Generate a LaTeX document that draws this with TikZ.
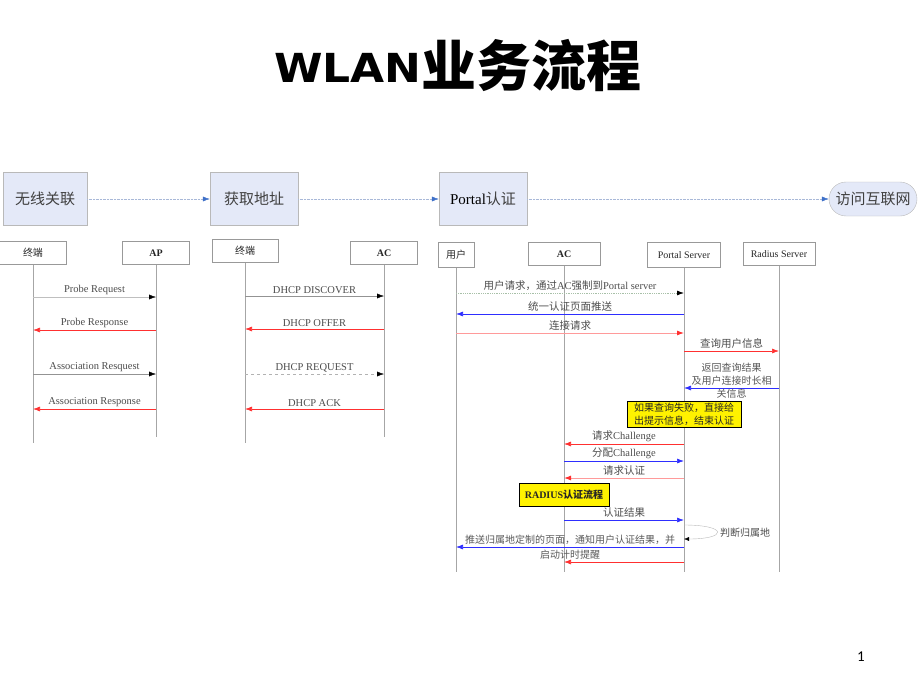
\documentclass[tikz,border=0pt]{standalone}
\usepackage{fontspec}
\setmainfont{Liberation Serif}
\newfontfamily\cjk{Noto Sans CJK SC}
\newfontfamily\titlefont{DejaVu Sans}
\newfontfamily\calibri{Carlito}
\usetikzlibrary{arrows.meta,calc}
\newcommand{\zh}[1]{{\cjk #1}}
\definecolor{msgred}{HTML}{FF3030}
\definecolor{msgpink}{HTML}{FF9A9A}
\definecolor{msgblue}{HTML}{2E2EFF}
\definecolor{phasefill}{HTML}{E4E9F8}
\definecolor{flowline}{HTML}{A8B8D8}
\definecolor{flowhead}{HTML}{3E70C8}
\definecolor{dotgreen}{HTML}{A8C0A8}

\begin{document}
\begin{tikzpicture}[x=1pt,y=-1pt,>={Latex[length=7pt,width=5pt]},
  phase/.style={draw=gray!55,fill=phasefill,minimum width=88pt,minimum height=53pt,
    inner sep=0pt,text=black!75,font=\fontsize{15}{18}\selectfont},
  actor/.style={draw=gray!80,minimum height=23pt,inner sep=0pt,text=black!85,
    font=\fontsize{10}{12}\selectfont},
  life/.style={draw=gray!70,line width=.7pt},
  lbl/.style={above=1pt,inner sep=1pt,text=black!70,font=\fontsize{10.5}{12}\selectfont},
  note/.style={draw,fill=yellow,inner sep=2pt,align=center,text=black!85},
  flow/.style={->,densely dotted,draw=flowline,>={Latex[length=7pt,width=5pt,color=flowhead]}},
  greymsg/.style={->,draw=gray!50,>={Latex[length=7pt,width=5pt,color=black]}},
  darkmsg/.style={->,draw=gray!85,>={Latex[length=7pt,width=5pt,color=black]}},
  dashmsg/.style={->,dashed,draw=gray!60,>={Latex[length=7pt,width=5pt,color=black]}},
  dotmsg/.style={->,densely dotted,draw=dotgreen,line width=.8pt,>={Latex[length=7pt,width=5pt,color=black]}},
  redmsg/.style={->,draw=msgred,line width=.7pt},
  pinkmsg/.style={->,draw=msgpink,line width=.9pt,>={Latex[length=7pt,width=5pt,color=msgred]}},
  bluemsg/.style={->,draw=msgblue,line width=.7pt}]
\useasboundingbox (0,0) rectangle (920,690);

\node (title) at (458,66) {\raisebox{4pt}{\scalebox{1.1}[1]{\titlefont\bfseries\fontsize{40}{40}\selectfont WLAN}}%
  {\cjk\bfseries\fontsize{55}{55}\selectfont 业务流程}};

% phases
\node[phase,minimum width=84pt] (assoc) at (45,199) {\zh{无线关联}};
\node[phase] (addr) at (254,199) {\zh{获取地址}};
\node[phase] (auth) at (483,199) {\textcolor{black}{Portal}\zh{认证}};
\node[phase,rounded corners=17pt,minimum height=34pt] (net) at (873,199) {\zh{访问互联网}};
\draw[flow] (assoc) -- (addr);
\draw[flow] (addr) -- (auth);
\draw[flow] (auth) -- (net);

% actors
\node[actor,minimum width=67pt] (t1) at (33,253) {\zh{终端}};
\node[actor,minimum width=67pt] (ap) at (156,253) {\textbf{AP}};
\node[actor,minimum width=66pt] (t2) at (245,251) {\zh{终端}};
\node[actor,minimum width=67pt] (ac1) at (384,253) {\textbf{AC}};
\node[actor,minimum width=36pt,minimum height=25pt] (usr) at (456,255) {\zh{用户}};
\node[actor,minimum width=72pt] (ac2) at (564,254) {\textbf{AC}};
\node[actor,minimum width=73pt,minimum height=25pt] (ps) at (684,255) {Portal Server};
\node[actor,minimum width=72pt] (rs) at (779,254) {Radius Server};

\foreach \n/\y in {m1/297,m2/330,m3/374,m4/409,d1/296,d2/329,d3/374,d4/409,
  q1/293,q2/314,q3/333,q4/351,q5/388,q7/444,q8/461,q9/478,q11/520,q12/525,
  q13/539,q14/547,q15/562,end1/443,end2/437,end3/572}
  \coordinate (\n) at (0,\y);

\draw[life] (t1) -- (t1 |- end1) (ap) -- (ap |- end2)
            (t2) -- (t2 |- end1) (ac1) -- (ac1 |- end2)
            (usr) -- (usr |- end3) (ac2) -- (ac2 |- end3)
            (ps) -- (ps |- end3) (rs) -- (rs |- end3);

% association
\draw (t1 |- m1) edge[greymsg] node[lbl] {Probe Request} (ap |- m1)
      (ap |- m2) edge[redmsg] node[lbl] {Probe Response} (t1 |- m2)
      (t1 |- m3) edge[darkmsg] node[lbl] {Association Resquest} (ap |- m3)
      (ap |- m4) edge[redmsg] node[lbl] {Association Response} (t1 |- m4);

% dhcp
\draw (t2 |- d1) edge[darkmsg] node[lbl] {DHCP DISCOVER} (ac1 |- d1)
      (ac1 |- d2) edge[redmsg] node[lbl] {DHCP OFFER} (t2 |- d2)
      (t2 |- d3) edge[dashmsg] node[lbl] {DHCP REQUEST} (ac1 |- d3)
      (ac1 |- d4) edge[redmsg] node[lbl] {DHCP ACK} (t2 |- d4);

% portal
\draw (usr |- q1) edge[dotmsg] node[lbl] {\zh{用户请求，通过}AC\zh{强制到}Portal server} (ps |- q1)
      (ps |- q2) edge[bluemsg] node[lbl] {\zh{统一认证页面推送}} (usr |- q2)
      (usr |- q3) edge[pinkmsg] node[lbl] {\zh{连接请求}} (ps |- q3)
      (ps |- q4) edge[redmsg] node[lbl] {\zh{查询用户信息}} (rs |- q4)
      (rs |- q5) edge[bluemsg] node[inner sep=0pt,yshift=7pt,align=center,text=black!65,
        font=\fontsize{10}{13}\selectfont] {\zh{返回查询结果}\\\zh{及用户连接时长相}\\\zh{关信息}} (ps |- q5)
      (ps |- q7) edge[redmsg] node[lbl] {\zh{请求}Challenge} (ac2 |- q7)
      (ac2 |- q8) edge[bluemsg] node[lbl] {\zh{分配}Challenge} (ps |- q8)
      (ps |- q9) edge[pinkmsg] node[lbl] {\zh{请求认证}} (ac2 |- q9)
      (ac2 |- q11) edge[bluemsg] node[lbl] {\zh{认证结果}} (ps |- q11)
      (ps |- q14) edge[bluemsg] node[inner sep=0pt,align=center,text=black!65,
        font=\fontsize{10}{15}\selectfont] {\zh{推送归属地定制的页面，通知用户认证结果，并}\\\zh{启动计时提醒}} (usr |- q14)
      (ps |- q15) edge[redmsg] (ac2 |- q15);

\node[note,minimum width=114pt,minimum height=26pt,font=\fontsize{10}{13}\selectfont]
  (fail) at (684,414) {\zh{如果查询失败，直接给}\\\zh{出提示信息，结束认证}};
\node[note,minimum width=90pt,minimum height=23pt,font=\fontsize{10}{12}\selectfont]
  (radius) at (564,495) {\textbf{RADIUS}\zh{\bfseries 认证流程}};

\draw[greymsg,draw=gray!55,>={Latex[length=5pt,width=4pt,color=black]}]
  (ps |- q12) to[out=0,in=0,distance=44pt] (ps |- q13);
\node[anchor=west,inner sep=0pt,text=black!70,font=\fontsize{10}{12}\selectfont]
  (home) at (720,533) {\zh{判断归属地}};

\node (pgnum) at (861,657) {\calibri\fontsize{15}{15}\selectfont 1};
\end{tikzpicture}
\end{document}
